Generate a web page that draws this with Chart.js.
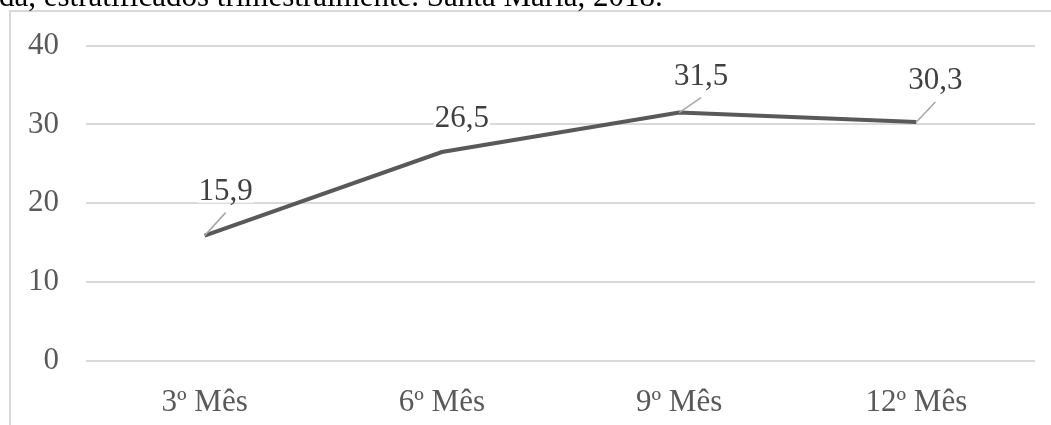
<!DOCTYPE html>
<html>
<head>
<meta charset="utf-8">
<script src="https://cdn.jsdelivr.net/npm/chart.js@4/dist/chart.umd.min.js"></script>
<style>
  html, body { margin: 0; padding: 0; background: #ffffff; }
  #wrap { width: 1051px; height: 425px; position: relative; }
</style>
</head>
<body>
<div id="wrap"><canvas id="c" width="1051" height="425"></canvas></div>
<script>
// Categorias (trimestres) e valores da série
const categories = ['3º Mês', '6º Mês', '9º Mês', '12º Mês'];
const values = [15.9, 26.5, 31.5, 30.3];
const yTicks = [0, 10, 20, 30, 40];
const captionTail = 'da, estratificados trimestralmente. Santa Maria, 2018.';

// Posição dos rótulos de dados relativa ao ponto (px) e se há linha de chamada
const labelOffsets = [[21, -45], [20, -34], [22, -37], [19, -42]];
const labelLeaders = [true, false, true, true];

const SERIF = '"Liberation Serif", "Times New Roman", serif';

const framePlugin = {
  id: 'frame',
  beforeDraw(chart) {
    const ctx = chart.ctx;
    ctx.save();
    ctx.fillStyle = '#ffffff';
    ctx.fillRect(0, 0, chart.width, chart.height);
    // moldura do gráfico
    ctx.strokeStyle = '#d9d9d9';
    ctx.lineWidth = 2;
    ctx.beginPath();
    ctx.moveTo(10, chart.height);
    ctx.lineTo(10, 11);
    ctx.lineTo(chart.width, 11);
    ctx.stroke();
    // texto da legenda acima do quadro
    ctx.fillStyle = '#000000';
    ctx.font = '31px ' + SERIF;
    ctx.textBaseline = 'alphabetic';
    ctx.textAlign = 'left';
    ctx.fillText(captionTail, -1, 6);
    ctx.restore();
  }
};

const valueLabels = {
  id: 'valueLabels',
  afterDatasetsDraw(chart) {
    const ctx = chart.ctx;
    const meta = chart.getDatasetMeta(0);
    ctx.save();
    ctx.font = '31px ' + SERIF;
    ctx.textAlign = 'center';
    ctx.textBaseline = 'middle';
    meta.data.forEach((pt, i) => {
      const text = values[i].toFixed(1).replace('.', ',');
      const cx = pt.x + labelOffsets[i][0];
      const cy = pt.y + labelOffsets[i][1];
      const w = ctx.measureText(text).width;
      ctx.fillStyle = '#ffffff';
      ctx.fillRect(cx - w / 2 - 1, cy - 12, w + 2, 24);
      if (labelLeaders[i]) {
        ctx.strokeStyle = '#a6a6a6';
        ctx.lineWidth = 1.5;
        ctx.beginPath();
        ctx.moveTo(pt.x, pt.y);
        ctx.lineTo(cx, cy + 22);
        ctx.stroke();
      }
      ctx.fillStyle = '#404040';
      ctx.fillText(text, cx, cy + 1);
    });
    ctx.restore();
  }
};

new Chart(document.getElementById('c'), {
  type: 'line',
  data: {
    labels: categories,
    datasets: [{
      data: values,
      borderColor: '#595959',
      borderWidth: 4,
      pointRadius: 0,
      pointHoverRadius: 0,
      tension: 0,
      fill: false
    }]
  },
  options: {
    responsive: false,
    animation: false,
    events: [],
    layout: { padding: { top: 42, right: 16, left: 0, bottom: 0 } },
    plugins: { legend: { display: false }, tooltip: { enabled: false } },
    scales: {
      x: {
        offset: true,
        grid: { display: false },
        border: { display: false },
        ticks: { color: '#595959', font: { family: SERIF, size: 31 }, padding: 15, maxRotation: 0 },
        afterFit(scale) { scale.height = 64; }
      },
      y: {
        min: 0,
        max: 40,
        afterBuildTicks(scale) { scale.ticks = yTicks.map(v => ({ value: v })); },
        grid: { color: '#d9d9d9', lineWidth: 2, drawTicks: false },
        border: { display: false },
        ticks: { color: '#595959', font: { family: SERIF, size: 31 }, padding: 27 },
        afterFit(scale) { scale.width = 86; }
      }
    }
  },
  plugins: [framePlugin, valueLabels]
});
</script>
</body>
</html>
